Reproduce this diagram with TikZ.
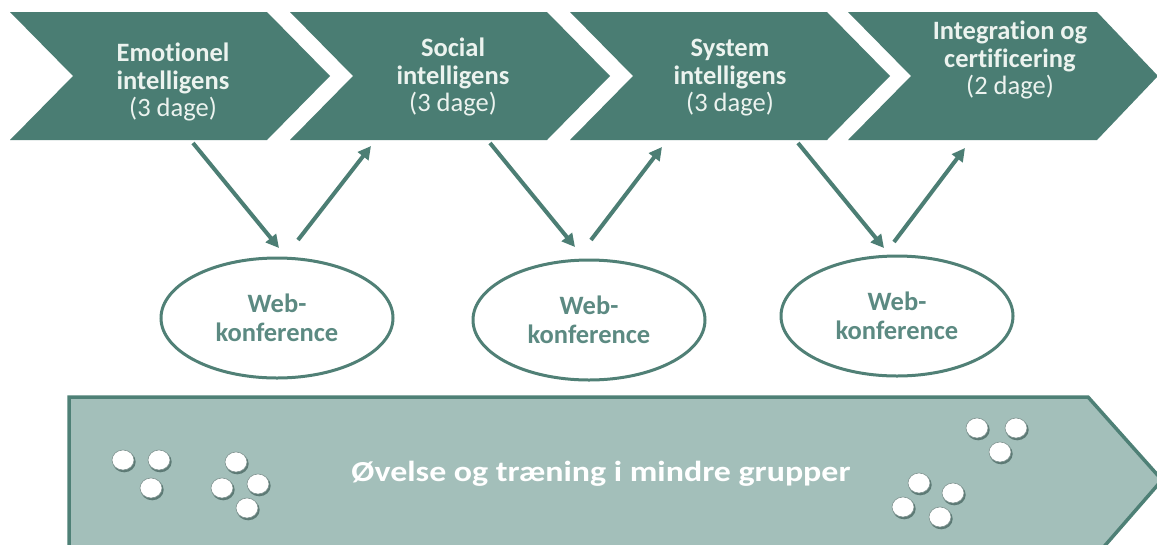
\documentclass[tikz,border=0pt]{standalone}
\usepackage{fontspec}
\setmainfont{Carlito}[Ligatures={NoCommon}]
\newfontfamily\widefont{Carlito}[FakeStretch=1.17,Ligatures={NoCommon}]
\usetikzlibrary{shapes.geometric,arrows.meta}
\definecolor{teal1}{RGB}{74,125,115}
\definecolor{tealline}{RGB}{76,126,116}
\definecolor{ellline}{RGB}{80,128,118}
\definecolor{elltext}{RGB}{92,138,130}
\definecolor{lightfill}{RGB}{163,191,186}
\definecolor{lightline}{RGB}{78,128,118}
\definecolor{chevtext}{RGB}{236,243,239}
\definecolor{dotshadow}{RGB}{70,100,95}
\tikzset{
  chev/.style={fill=teal1, draw=none},
  chevlabel/.style={anchor=north, inner sep=0pt, align=center, text=chevtext,
    font=\fontsize{26.5}{27.5}\selectfont\bfseries},
  webnode/.style={ellipse, draw=ellline, line width=3pt, fill=white,
    minimum width=232pt, minimum height=120pt, inner sep=0pt, align=center,
    text=elltext, font=\fontsize{26.5}{29.5}\selectfont\bfseries},
  flowarrow/.style={draw=tealline, line width=4pt,
    -{Triangle[length=13pt,width=13pt]}},
  bigarrow/.style={fill=lightfill, draw=lightline, line width=3.5pt},
  biglabel/.style={anchor=base, inner sep=0pt, text=white,
    font=\fontsize{29}{30}\selectfont\widefont\bfseries},
}
\newcommand{\dotat}[2]{%
  \fill[dotshadow, opacity=0.75] (#1+1.2,#2+1.8) ellipse [x radius=11.5pt, y radius=10.5pt];
  \fill[white, draw=dotshadow!70, line width=0.6pt] (#1,#2) ellipse [x radius=11pt, y radius=10pt];
}
\begin{document}
\begin{tikzpicture}[x=1pt,y=-1pt]
\useasboundingbox (0,0) rectangle (1157,544);
\fill[white] (0,0) rectangle (1157,544);

% chevrons
\path[chev] (10,12) -- (267,12) -- (330,76) -- (267,140) -- (10,140) -- (73,76) -- cycle;
\path[chev] (290,12) -- (547,12) -- (610,76) -- (547,140) -- (290,140) -- (353,76) -- cycle;
\path[chev] (570,12) -- (827,12) -- (890,76) -- (827,140) -- (570,140) -- (633,76) -- cycle;
\path[chev] (848,12) -- (1097,12) -- (1158,76) -- (1097,140) -- (848,140) -- (911,76) -- cycle;

\node[chevlabel] (c1) at (173,43) {Emotionel\\intelligens\\{\mdseries(3 dage)}};
\node[chevlabel] (c2) at (453,38) {Social\\intelligens\\{\mdseries(3 dage)}};
\node[chevlabel] (c3) at (730,39) {System\\intelligens\\{\mdseries(3 dage)}};
\node[chevlabel] (c4) at (1010,21) {Integration og\\certificering\\{\mdseries(2 dage)}};

% web conference ellipses
\node[webnode] (w1) at (277,318) {Web-\\konference};
\node[webnode] (w2) at (589,320) {Web-\\konference};
\node[webnode] (w3) at (897,316) {Web-\\konference};

% arrow end coordinates
\coordinate (d1s) at (193,143); \coordinate (d1e) at (279,248);
\coordinate (u1s) at (298,240); \coordinate (u1e) at (371,146);
\coordinate (d2s) at (490,143); \coordinate (d2e) at (575,247);
\coordinate (u2s) at (591,240); \coordinate (u2e) at (662,147);
\coordinate (d3s) at (798,143); \coordinate (d3e) at (884,248);
\coordinate (u3s) at (894,242); \coordinate (u3e) at (965,148);

\draw[flowarrow] (d1s) -- (d1e);
\draw[flowarrow] (u1s) -- (u1e);
\draw[flowarrow] (d2s) -- (d2e);
\draw[flowarrow] (u2s) -- (u2e);
\draw[flowarrow] (d3s) -- (d3e);
\draw[flowarrow] (u3s) -- (u3e);

% bottom big arrow
\path[bigarrow] (69,397) -- (1088,397) -- (1162,480) -- (1088,565) -- (69,565) -- cycle;
\node[biglabel] (ov) at (601,481) {Øvelse og træning i mindre grupper};

% small dots
\dotat{123}{460}\dotat{159}{460}\dotat{151}{488}
\dotat{236}{462}\dotat{258}{484}\dotat{222}{488}\dotat{247}{508}
\dotat{977}{428}\dotat{1016}{428}\dotat{1000}{452}
\dotat{919}{483}\dotat{953}{493}\dotat{903}{507}\dotat{940}{517}
\end{tikzpicture}
\end{document}
